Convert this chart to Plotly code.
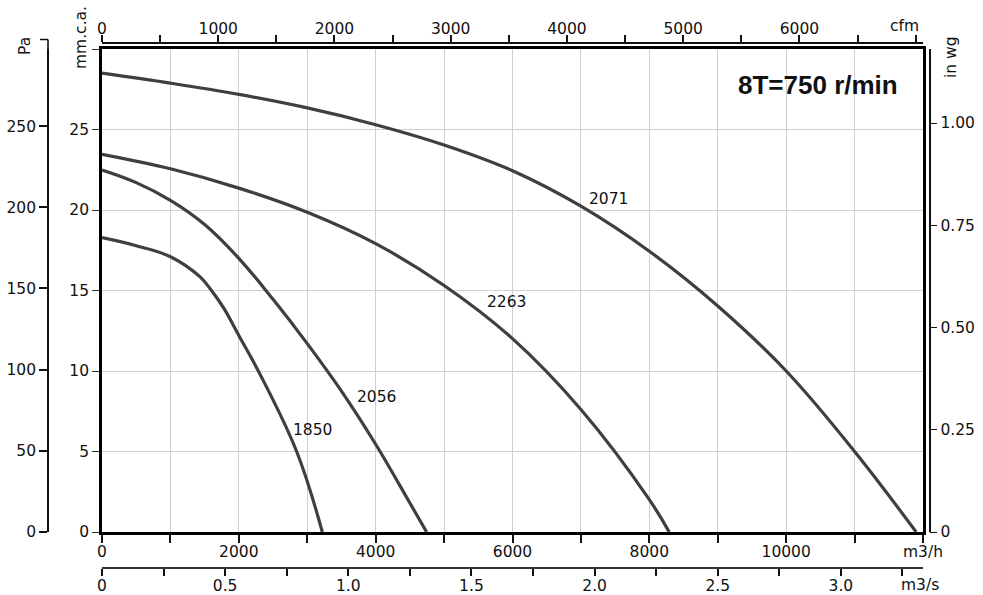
import plotly.graph_objects as go

# ---------------- data (flow in m3/h, pressure in mm.c.a.) ----------------
q_2071 = [0, 1000, 2000, 3000, 4000, 5000, 6000, 7000, 8000, 9000, 10000, 11000, 11900]
p_2071 = [28.5, 27.88, 27.18, 26.34, 25.3, 24.04, 22.44, 20.24, 17.44, 14.04, 10.0, 5.0, 0.0]

q_2263 = [0, 1000, 2000, 3000, 4000, 5000, 6000, 7000, 8000, 8290]
p_2263 = [23.46, 22.56, 21.36, 19.86, 17.91, 15.31, 12.01, 7.61, 2.01, 0.0]

q_2056 = [0, 500, 1000, 1500, 2000, 2500, 3000, 3500, 4000, 4500, 4745]
p_2056 = [22.48, 21.7, 20.6, 19.1, 17.0, 14.45, 11.7, 8.75, 5.45, 1.8, 0.0]

q_1850 = [0, 500, 1000, 1430, 1600, 1780, 2000, 2285, 2845, 3220]
p_1850 = [18.28, 17.78, 17.1, 15.86, 15.0, 13.9, 12.2, 10.0, 5.0, 0.0]

curve_names = ["2071", "2263", "2056", "1850"]
title_text = "8T=750 r/min"

# tick values / labels
m3h_ticks = list(range(0, 13000, 1000))
m3h_labels = ["0", "", "2000", "", "4000", "", "6000", "", "8000", "", "10000", "", "m3/h"]
cfm_ticks = list(range(0, 7500, 500))
cfm_labels = ["0", "", "1000", "", "2000", "", "3000", "", "4000", "", "5000", "", "6000", "", ""]
cfm_unit = "cfm"
m3s_ticks = [0, 0.25, 0.5, 0.75, 1.0, 1.25, 1.5, 1.75, 2.0, 2.25, 2.5, 2.75, 3.0, 3.25]
m3s_labels = ["0", "", "0.5", "", "1.0", "", "1.5", "", "2.0", "", "2.5", "", "3.0", ""]
m3s_unit = "m3/s"
mm_ticks = [0, 5, 10, 15, 20, 25, 30]
mm_labels = ["0", "5", "10", "15", "20", "25", ""]
pa_ticks = [0, 50, 100, 150, 200, 250]
pa_labels = ["0", "50", "100", "150", "200", "250"]
inwg_ticks = [0, 0.25, 0.5, 0.75, 1.0]
inwg_labels = ["0", "0.25", "0.50", "0.75", "1.00"]

# ranges / conversions
Q_MAX = 12000
MM_MAX = 30
CFM_MAX = Q_MAX / 1.699
M3S_MAX = Q_MAX / 3600
PA_MAX = 297.5
INWG_MAX = MM_MAX / 25.4

# ---------------- layout geometry (pixels -> paper fractions) ----------------
W, H = 983, 595
ML, MR, MT, MB = 40, 40, 40, 20
PW, PH = W - ML - MR, H - MT - MB


def fx(px):
    return (px - ML) / PW


def fy(py):
    return (H - MB - py) / PH


FONT = "DejaVu Sans"
FS = 15.5
CURVE_COLOR = "#3f3f3f"
GRID = "#cfcfcf"

fig = go.Figure()

series = [(q_2071, p_2071), (q_2263, p_2263), (q_2056, p_2056), (q_1850, p_1850)]
for (q, p), name in zip(series, curve_names):
    fig.add_trace(go.Scatter(
        x=q, y=p, mode="lines", name=name,
        line=dict(color=CURVE_COLOR, width=3.2, shape="spline", smoothing=1.1),
        hoverinfo="skip", showlegend=False,
    ))

# dummy traces to bind the secondary axes
fig.add_trace(go.Scatter(x=[0, CFM_MAX], y=[0, 0], xaxis="x2", yaxis="y", mode="lines",
                         line=dict(width=0), hoverinfo="skip", showlegend=False))
fig.add_trace(go.Scatter(x=[0, M3S_MAX], y=[0, 0], xaxis="x3", yaxis="y", mode="lines",
                         line=dict(width=0), hoverinfo="skip", showlegend=False))
fig.add_trace(go.Scatter(x=[0, 0], y=[0, PA_MAX], xaxis="x", yaxis="y2", mode="lines",
                         line=dict(width=0), hoverinfo="skip", showlegend=False))
fig.add_trace(go.Scatter(x=[0, 0], y=[0, INWG_MAX], xaxis="x", yaxis="y3", mode="lines",
                         line=dict(width=0), hoverinfo="skip", showlegend=False))

xdom = [fx(102), fx(923)]
ydom = [fy(532), fy(49)]

common_tick = dict(tickfont=dict(family=FONT, size=FS, color="#111"), ticks="outside",
                   tickcolor="#111", showgrid=False, zeroline=False, fixedrange=True,
                   automargin=False)

fig.update_layout(
    width=W, height=H, autosize=False,
    margin=dict(l=ML, r=MR, t=MT, b=MB, autoexpand=False),
    paper_bgcolor="white", plot_bgcolor="white",
    showlegend=False,
    font=dict(family=FONT, size=FS, color="#111"),
    xaxis=dict(
        domain=xdom, range=[0, Q_MAX], tickmode="array",
        tickvals=m3h_ticks, ticktext=m3h_labels,
        ticks="outside", ticklen=8, tickwidth=1.5, tickcolor="#111",
        ticklabelstandoff=-4,
        showline=True, mirror=True, linewidth=2.6, linecolor="#000",
        showgrid=True, gridcolor=GRID, gridwidth=1, zeroline=False,
        tickfont=dict(family=FONT, size=FS, color="#111"), fixedrange=True,
        automargin=False,
    ),
    yaxis=dict(
        domain=ydom, range=[0, MM_MAX], tickmode="array",
        tickvals=mm_ticks, ticktext=mm_labels,
        ticks="outside", ticklen=7, tickwidth=1.2, tickcolor="#333",
        showline=True, mirror=True, linewidth=2.6, linecolor="#000",
        showgrid=True, gridcolor=GRID, gridwidth=1, zeroline=False,
        tickfont=dict(family=FONT, size=FS, color="#111"), fixedrange=True,
        automargin=False,
    ),
    xaxis2=dict(
        overlaying="x", side="top", anchor="free", position=fy(42.7),
        range=[0, CFM_MAX], tickmode="array", tickvals=cfm_ticks, ticktext=cfm_labels,
        ticklen=7, tickwidth=1.5, showline=True, linewidth=2, linecolor="#111",
        ticklabelstandoff=-5,
        **common_tick,
    ),
    xaxis3=dict(
        overlaying="x", side="bottom", anchor="free", position=fy(568),
        range=[0, M3S_MAX], tickmode="array", tickvals=m3s_ticks, ticktext=m3s_labels,
        ticklen=7, tickwidth=1.5, showline=True, linewidth=2, linecolor="#333",
        ticklabelstandoff=-4,
        **common_tick,
    ),
    yaxis2=dict(
        overlaying="y", side="left", anchor="free", position=fx(48),
        range=[0, PA_MAX], tickmode="array", tickvals=pa_ticks, ticktext=pa_labels,
        ticklen=8, tickwidth=1.5, showline=True, linewidth=1.6, linecolor="#111",
        **common_tick,
    ),
    yaxis3=dict(
        overlaying="y", side="right", anchor="free", position=fx(929.5),
        range=[0, INWG_MAX], tickmode="array", tickvals=inwg_ticks, ticktext=inwg_labels,
        ticklen=7, tickwidth=1.2, showline=True, linewidth=1.6, linecolor="#111",
        **common_tick,
    ),
)

# extension of the Pa axis above the plot frame with its end tick
fig.add_shape(type="line", xref="paper", yref="paper",
              x0=fx(48), x1=fx(48), y0=fy(49), y1=fy(39.5),
              line=dict(color="#111", width=1.6))
fig.add_shape(type="line", xref="paper", yref="paper",
              x0=fx(40), x1=fx(48), y0=fy(39.5), y1=fy(39.5),
              line=dict(color="#111", width=1.5))

annotations = []
# axis unit labels (rotated)
for txt, px, py in [("Pa", 25, 46), ("mm.c.a.", 81.5, 37.5), ("in wg", 951, 57)]:
    annotations.append(dict(text=txt, xref="paper", yref="paper", x=fx(px), y=fy(py),
                            textangle=-90, showarrow=False,
                            font=dict(family=FONT, size=FS, color="#111"),
                            xanchor="center", yanchor="middle"))
# unit labels at the end of the top and lower flow axes
for txt, px, py in [(cfm_unit, 904, 26), (m3s_unit, 920, 585)]:
    annotations.append(dict(text=txt, xref="paper", yref="paper", x=fx(px), y=fy(py),
                            showarrow=False,
                            font=dict(family=FONT, size=FS, color="#111"),
                            xanchor="center", yanchor="middle"))

# curve labels
label_pos = [(7410, 20.68), (5905, 14.29), (4019, 8.39), (3077, 6.34)]
for name, (lx, ly) in zip(curve_names, label_pos):
    annotations.append(dict(text=name, xref="x", yref="y", x=lx, y=ly, showarrow=False,
                            font=dict(family=FONT, size=FS, color="#111"),
                            xanchor="center", yanchor="middle"))

# speed title
annotations.append(dict(text="<b>" + title_text + "</b>", xref="x", yref="y",
                        x=10458, y=27.76, showarrow=False,
                        font=dict(family="Liberation Sans", size=26, color="#111"),
                        xanchor="center", yanchor="middle"))

fig.update_layout(annotations=annotations)

fig.write_html(
    "out.html",
    config={"displayModeBar": False},
    post_script="document.body.style.margin='0';document.body.style.overflow='hidden';",
)
